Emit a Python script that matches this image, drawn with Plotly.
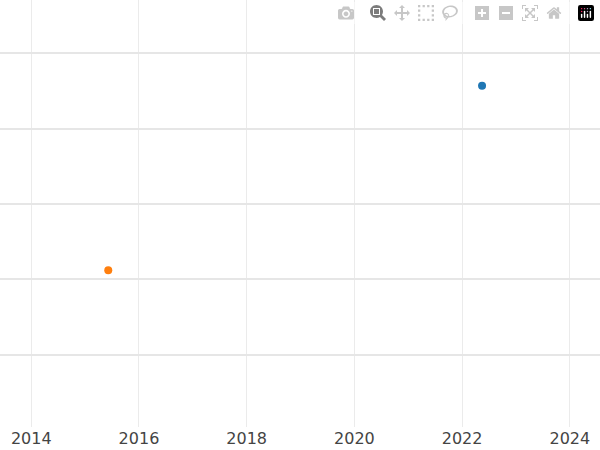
import plotly.graph_objects as go

# two series, one point each
years_a = [2022.37]
values_a = [4.57]
years_b = [2015.43]
values_b = [2.12]
x_ticks = [2014, 2016, 2018, 2020, 2022, 2024]
y_ticks = [1, 2, 3, 4, 5]

fig = go.Figure()
fig.add_trace(go.Scatter(x=years_a, y=values_a, mode='markers',
                         marker=dict(color='#1f77b4', size=8)))
fig.add_trace(go.Scatter(x=years_b, y=values_b, mode='markers',
                         marker=dict(color='#ff7f0e', size=8)))

fig.update_layout(
    width=600, height=450,
    margin=dict(l=0, r=0, t=0, b=23),
    showlegend=False,
    plot_bgcolor='white', paper_bgcolor='white',
    font=dict(family='DejaVu Sans', size=16, color='#444'),
)
fig.update_xaxes(range=[2013.42, 2024.56], tickvals=x_ticks, showgrid=True,
                 gridcolor='#ebebeb', gridwidth=1, zeroline=False, ticks='')
fig.update_yaxes(range=[0.04, 5.71], tickvals=y_ticks, showticklabels=False,
                 showgrid=True, gridcolor='#e6e6e6', gridwidth=1.5, zeroline=False)

fig.write_html("out.html", post_script="document.body.style.margin='0';document.body.style.overflow='hidden';")
